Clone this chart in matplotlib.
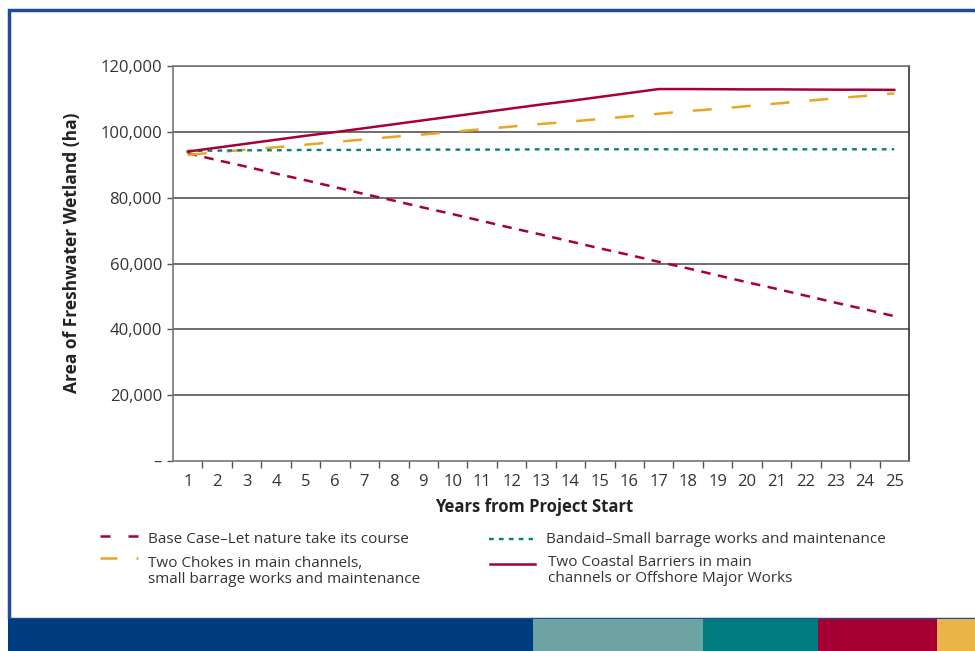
import numpy as np
import matplotlib
matplotlib.use("Agg")
import matplotlib.pyplot as plt
from matplotlib.patches import Rectangle
from matplotlib.lines import Line2D

plt.rcParams['font.family'] = ['Open Sans', 'DejaVu Sans']

years = list(range(1, 26))

base_case = [93500, 91400, 89400, 87300, 85300, 83200, 81100, 79100, 77000, 75000,
             72900, 70800, 68800, 66700, 64600, 62600, 60500, 58500, 56400, 54300,
             52300, 50200, 48100, 46100, 44000]
chokes = [93000, 93800, 94600, 95300, 96100, 96900, 97700, 98500, 99200, 100000,
          100800, 101600, 102400, 103100, 103900, 104700, 105500, 106300, 107000, 107800,
          108600, 109400, 110200, 110900, 111700]
bandaid = [94200, 94300, 94400, 94400, 94500, 94500, 94500, 94600, 94600, 94600,
           94600, 94600, 94700, 94700, 94700, 94700, 94700, 94700, 94700, 94700,
           94700, 94700, 94700, 94700, 94700]
coastal = [94000, 95200, 96400, 97600, 98800, 99900, 101100, 102300, 103500, 104700,
           105900, 107100, 108300, 109400, 110600, 111800, 113000, 113000, 112950, 112900,
           112900, 112850, 112800, 112800, 112750]

labels = ["Base Case\u2013Let nature take its course",
          "Two Chokes in main channels,\nsmall barrage works and maintenance",
          "Bandaid\u2013Small barrage works and maintenance",
          "Two Coastal Barriers in main\nchannels or Offshore Major Works"]

y_ticks = [0, 20000, 40000, 60000, 80000, 100000, 120000]
y_ticklabels = ["\u2013", "20,000", "40,000", "60,000", "80,000", "100,000", "120,000"]

crimson = "#a6003a"
gold = "#e8a622"
teal = "#00807f"
text_col = "#333333"

W, H = 975, 651
fig = plt.figure(figsize=(W / 100, H / 100), dpi=100)
ax = fig.add_axes([173 / W, 1 - 461 / H, (909 - 173) / W, (461 - 66) / H])

for y in y_ticks[1:]:
    ax.axhline(y, color="#555555", lw=1.2, zorder=1)

styles = [dict(color=crimson, lw=1.8, dashes=(3.8, 3)),
          dict(color=gold, lw=1.8, dashes=(7.6, 8)),
          dict(color=teal, lw=1.7, dashes=(2, 2.2)),
          dict(color=crimson, lw=1.8)]
series = [base_case, chokes, bandaid, coastal]
for vals, st, z in zip(series, styles, [3, 3, 3, 4]):
    ax.plot(years, vals, zorder=z, **st)

ax.set_xlim(0.5, 25.5)
ax.set_ylim(0, 120000)
ax.set_xticks(years)
ax.set_xticklabels([str(y) for y in years])
ax.set_xticks(np.arange(1.5, 25, 1), minor=True)
ax.tick_params(axis="x", which="major", length=0, pad=9, labelsize=12, labelcolor=text_col)
ax.tick_params(axis="x", which="minor", length=5, width=1, color="#555555")
ax.set_yticks(y_ticks)
ax.set_yticklabels(y_ticklabels)
ax.tick_params(axis="y", length=4, width=1, color="#555555", pad=4, labelsize=12,
               labelcolor=text_col)

for side in ["left", "top", "bottom"]:
    ax.spines[side].set_color("#777777")
    ax.spines[side].set_linewidth(1.2)
ax.spines["right"].set_color("#333333")
ax.spines["right"].set_linewidth(1.2)

ax.set_xlabel("Years from Project Start", fontsize=12, fontweight="bold", color="#222222")
ax.xaxis.set_label_coords((534 - 173) / (909 - 173), -(507 - 461) / (461 - 66))
ax.set_ylabel("Area of Freshwater Wetland (ha)", fontsize=12.5, fontweight="bold",
              color="#222222")
ax.yaxis.set_label_coords(-(173 - 72) / (909 - 173), (461 - 253) / (461 - 66))
ax.xaxis.label.set_va("center")
ax.yaxis.label.set_va("center")

# legend, drawn by hand so the handle sits beside the first line of each label
# (handle x0, x1, handle y, text x, text top y, label, style)
leg_items = [(100, 138, 536, 148, 532, labels[0], dict(color=crimson, lw=1.8, dashes=(4, 7.2))),
             (100, 138, 558, 148, 556, labels[1], dict(color=gold, lw=1.8, dashes=(6.8, 7.6))),
             (489, 533, 539, 546, 532, labels[2], styles[2]),
             (490, 535, 564, 548, 555, labels[3], styles[3])]
for x0, x1, yh, xt, yt, lab, st in leg_items:
    fig.add_artist(Line2D([x0 / W, x1 / W], [1 - yh / H, 1 - yh / H],
                          transform=fig.transFigure, **st))
    fig.text(xt / W, 1 - yt / H, lab, fontsize=11, color=text_col,
             ha="left", va="top", linespacing=1.05)

# blue frame around the chart
fig.add_artist(Rectangle((9 / W, 1 - 619 / H), 1.2, (619 - 10) / H,
                         transform=fig.transFigure, fill=False, lw=2.5,
                         edgecolor="#1f4e96", clip_on=False))

# colour band along the bottom
bands = [(8, 533, "#003c80"), (533, 703, "#6ea3a3"), (703, 818, "#007b80"),
         (818, 937, "#a50034"), (937, 975, "#e9b548")]
for x0, x1, c in bands:
    fig.add_artist(Rectangle((x0 / W, 0), (x1 - x0) / W, 32 / H,
                             transform=fig.transFigure, color=c, lw=0))

fig.savefig("out.png", dpi=100)
